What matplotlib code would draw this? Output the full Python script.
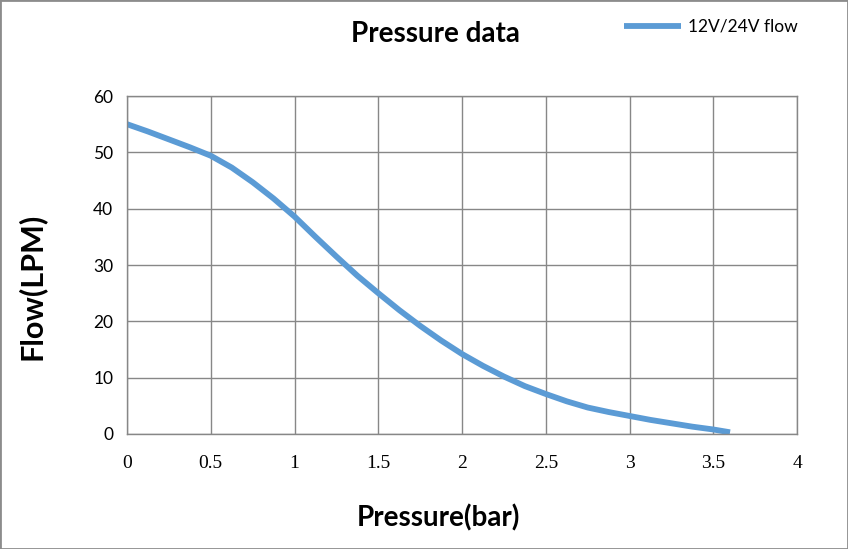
import numpy as np
import matplotlib.pyplot as plt
from matplotlib.patches import Rectangle

# values
pressure = [0, 0.125, 0.25, 0.375, 0.5, 0.625, 0.75, 0.875, 1.0, 1.125, 1.25, 1.375,
            1.5, 1.625, 1.75, 1.875, 2.0, 2.125, 2.25, 2.375, 2.5, 2.625, 2.75,
            2.875, 3.0, 3.125, 3.25, 3.375, 3.5, 3.6]
flow = [55.0, 53.7, 52.3, 50.9, 49.4, 47.3, 44.7, 41.8, 38.6, 35.0, 31.5, 28.1,
        25.0, 22.0, 19.2, 16.6, 14.2, 12.1, 10.2, 8.5, 7.1, 5.8, 4.7,
        3.9, 3.2, 2.5, 1.9, 1.3, 0.8, 0.3]

xticks = [0, 0.5, 1, 1.5, 2, 2.5, 3, 3.5, 4]
xlabels = ['0', '0.5', '1', '1.5', '2', '2.5', '3', '3.5', '4']
yticks = [0, 10, 20, 30, 40, 50, 60]

SANS = ['Lato', 'DejaVu Sans']
GRID = '#878787'
BLUE = '#5b9bd5'

fig = plt.figure(figsize=(8.48, 5.49), dpi=100)
fig.patches.append(Rectangle((0, 0), 1, 1, transform=fig.transFigure,
                             fill=False, edgecolor='#8c8c8c', linewidth=2))
ax = fig.add_axes([0.1498, 0.2095, 0.7901, 0.6156])

ax.plot(pressure, flow, color=BLUE, linewidth=4.2, solid_capstyle='butt',
        solid_joinstyle='round', label='12V/24V flow')

ax.set_xlim(0, 4)
ax.set_ylim(0, 60)
ax.set_xticks(xticks)
ax.set_xticklabels(xlabels, family=['Liberation Serif', 'DejaVu Serif'], fontsize=14)
ax.set_yticks(yticks)
ax.set_yticklabels([str(v) for v in yticks], family=SANS, fontsize=12.5)
ax.tick_params(axis='x', length=0, pad=15, colors='#000000')
ax.tick_params(axis='y', length=0, pad=10, colors='#000000')
ax.grid(True, color=GRID, linewidth=1)
for s in ax.spines.values():
    s.set_color(GRID)
    s.set_linewidth(1)

fig.text(0.514, 0.938, 'Pressure data', ha='center', va='center',
         family=SANS, fontweight='bold', fontsize=20)
fig.text(0.517, 0.056, 'Pressure(bar)', ha='center', va='center',
         family=SANS, fontweight='bold', fontsize=20)
fig.text(0.037, 0.478, 'Flow(LPM)', ha='center', va='center', rotation=90,
         family=SANS, fontweight='bold', fontsize=22)

leg = fig.legend(loc='center left', bbox_to_anchor=(0.717, 0.951), frameon=False,
                 handlelength=3.3, handletextpad=0.4,
                 prop={'family': SANS, 'size': 12.5})

fig.savefig('out.png', dpi=100)
